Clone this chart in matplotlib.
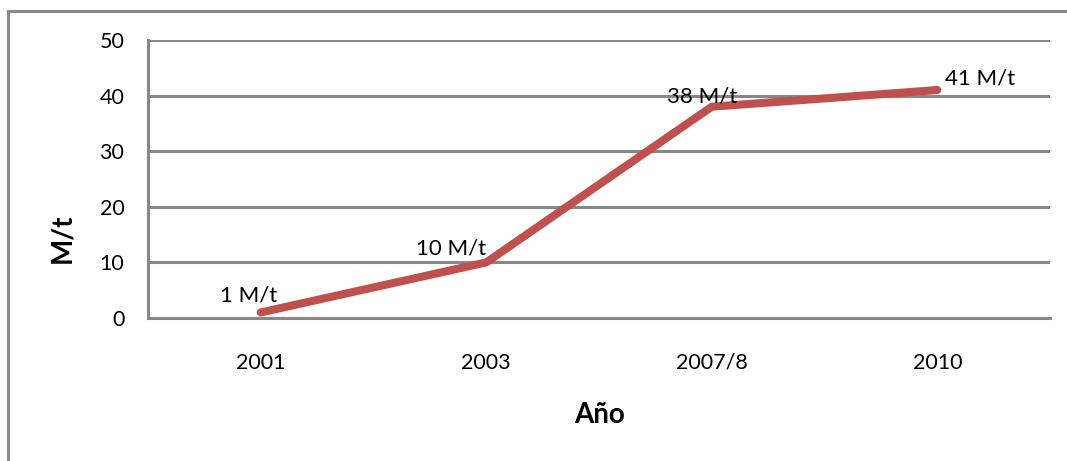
import matplotlib.pyplot as plt
from matplotlib.patches import Rectangle

years = ['2001', '2003', '2007/8', '2010']
values = [1, 10, 38, 41]
point_labels = ['1 M/t', '10 M/t', '38 M/t', '41 M/t']
label_offsets = [(-9, 12), (-25, 10), (-7, 7), (31, 8)]

gray = '#878787'
red = '#C0504D'
plt.rcParams['font.family'] = ['Lato', 'DejaVu Sans']

fig = plt.figure(figsize=(10.67, 4.61), dpi=100)
ax = fig.add_axes([148 / 1067, 1 - 318 / 461, 902 / 1067, 278 / 461])

x = list(range(len(years)))
ax.plot(x, values, color=red, linewidth=5.8, solid_capstyle='round', zorder=3)
for xi, v, lab, off in zip(x, values, point_labels, label_offsets):
    ax.annotate(lab, (xi, v), xytext=off, textcoords='offset points',
                ha='center', va='center', fontsize=16, zorder=4)

ax.set_xlim(-0.5, 3.5)
ax.set_ylim(0, 50)
ax.set_yticks(range(0, 51, 10))
ax.set_xticks(x)
ax.set_xticklabels(years)
ax.tick_params(axis='both', length=0, labelsize=15.5)
ax.tick_params(axis='y', pad=17)
ax.tick_params(axis='x', pad=25)
ax.grid(axis='y', color=gray, linewidth=2.2)
ax.set_axisbelow(True)
for side in ['top', 'right']:
    ax.spines[side].set_visible(False)
for side in ['left', 'bottom']:
    ax.spines[side].set_color(gray)
    ax.spines[side].set_linewidth(2.2)

fig.text(62 / 1067, 1 - 238 / 461, 'M/t', rotation=90, ha='center', va='center',
         fontsize=20, fontweight='bold')
fig.text(600 / 1067, 1 - 415 / 461, 'Año', ha='center', va='center',
         fontsize=20, fontweight='bold')

fig.patches.append(Rectangle((8 / 1067, -0.1), 1.2, 1 - 11 / 461 + 0.1,
                             transform=fig.transFigure, fill=False,
                             edgecolor=gray, linewidth=2.2))

fig.savefig('out.png', dpi=100)
